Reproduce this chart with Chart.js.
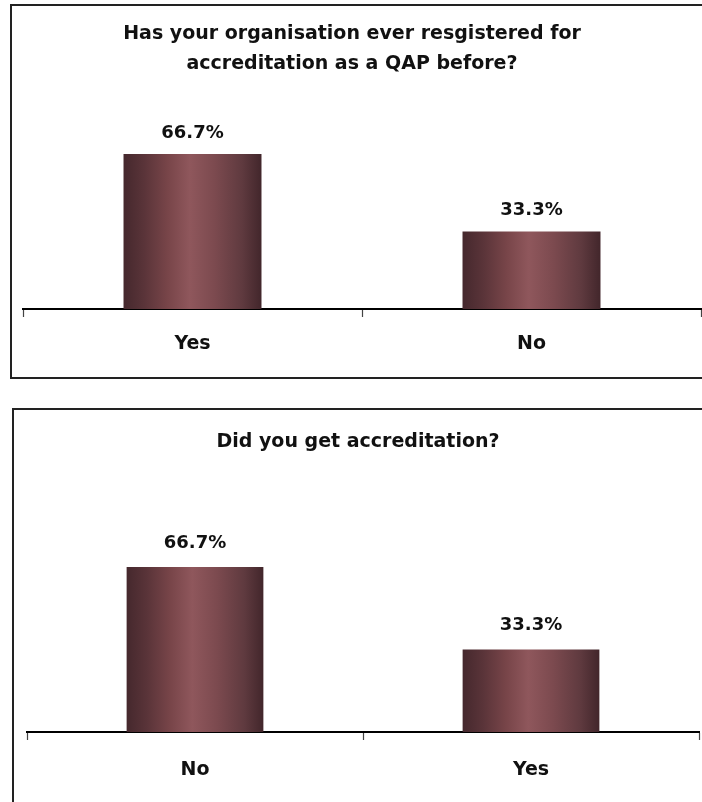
<!DOCTYPE html>
<html>
<head>
<meta charset="utf-8">
<script src="https://cdn.jsdelivr.net/npm/chart.js@4.4.1/dist/chart.umd.min.js"></script>
<style>
  html, body { margin:0; padding:0; background:#fff; width:702px; height:802px; overflow:hidden; }
  .box { position:absolute; border:2px solid #222; box-sizing:border-box; }
  #box1 { left:10px; top:4px; width:760px; height:375px; }
  #box2 { left:12px; top:408px; width:760px; height:460px; }
  .wrap { position:absolute; }
  #wrap1 { left:12px; top:6px; width:690px; height:369px; }
  #wrap2 { left:14px; top:410px; width:688px; height:392px; }
  .title { position:absolute; width:600px; text-align:center; font-family:"DejaVu Sans", sans-serif;
           font-weight:bold; font-size:19px; line-height:30px; color:#111; }
  #t1 { left:52px; top:17px; }
  #t2 { left:58px; top:425px; }
</style>
</head>
<body>
<div class="box" id="box1"></div>
<div class="box" id="box2"></div>
<div class="wrap" id="wrap1"><canvas id="c1" width="690" height="369"></canvas></div>
<div class="wrap" id="wrap2"><canvas id="c2" width="688" height="392"></canvas></div>
<div class="title" id="t1"></div>
<div class="title" id="t2"></div>
<script>
// ---- data ----
const title1 = ['Has your organisation ever resgistered for', 'accreditation as a QAP before?'];
const categories1 = ['Yes', 'No'];
const values1 = [66.7, 33.3];

const title2 = ['Did you get accreditation?'];
const categories2 = ['No', 'Yes'];
const values2 = [66.7, 33.3];

// ---- styling ----
const BAR_PCT = 0.407;
const FONT = '"DejaVu Sans", sans-serif';

document.getElementById('t1').innerHTML = title1.join('<br>');
document.getElementById('t2').innerHTML = title2.join('<br>');

function barGradient(c) {
  const chart = c.chart;
  const xs = chart.scales && chart.scales.x;
  if (!xs || !chart.chartArea || c.dataIndex === undefined) return '#7e4a50';
  const cx = xs.getPixelForValue(c.dataIndex);
  const w = xs.width / chart.data.labels.length * BAR_PCT;
  const g = chart.ctx.createLinearGradient(cx - w / 2, 0, cx + w / 2, 0);
  g.addColorStop(0.00, '#45282d');
  g.addColorStop(0.15, '#5a3439');
  g.addColorStop(0.32, '#784549');
  g.addColorStop(0.48, '#8f575c');
  g.addColorStop(0.66, '#7c4a4f');
  g.addColorStop(0.86, '#5f3a3f');
  g.addColorStop(1.00, '#42262b');
  return g;
}

const valueLabels = {
  id: 'valueLabels',
  afterDatasetsDraw(chart, args, opts) {
    const ctx = chart.ctx;
    const ds = chart.data.datasets[0];
    chart.getDatasetMeta(0).data.forEach((bar, i) => {
      ctx.save();
      ctx.font = 'bold 18px ' + FONT;
      ctx.fillStyle = '#111';
      ctx.textAlign = 'center';
      ctx.textBaseline = 'middle';
      ctx.fillText(ds.data[i].toFixed(1) + '%', bar.x, bar.y - opts.offset);
      ctx.restore();
    });
  }
};

function makeChart(id, labels, values, pad, tickPad, labelOffset) {
  return new Chart(document.getElementById(id), {
    type: 'bar',
    data: {
      labels: labels,
      datasets: [{
        data: values,
        backgroundColor: barGradient,
        borderWidth: 0,
        barPercentage: BAR_PCT,
        categoryPercentage: 1.0
      }]
    },
    options: {
      responsive: false,
      animation: false,
      events: [],
      layout: { padding: pad },
      plugins: {
        legend: { display: false },
        title: { display: false },
        tooltip: { enabled: false },
        valueLabels: { offset: labelOffset }
      },
      scales: {
        x: {
          offset: true,
          grid: { display: true, offset: true, drawOnChartArea: false, drawTicks: true,
                  tickLength: 8, tickColor: '#444', tickWidth: 1.2 },
          border: { display: true, color: '#000', width: 2 },
          ticks: { color: '#111', padding: tickPad - 1,
                   font: { family: FONT, size: 19, weight: 'bold' } },
          afterFit: s => { s.height = 50; }
        },
        y: { display: false, min: 0, max: 80 }
      }
    },
    plugins: [valueLabels]
  });
}

// chart 1: plot from x 23..701, y 123..309
makeChart('c1', categories1, values1, { left: 11, right: 1, top: 117, bottom: 16 }, 17, 21);
// chart 2: plot from x 27..699, y 534..732
makeChart('c2', categories2, values2, { left: 13, right: 3, top: 124, bottom: 20 }, 20, 24);
</script>
</body>
</html>
